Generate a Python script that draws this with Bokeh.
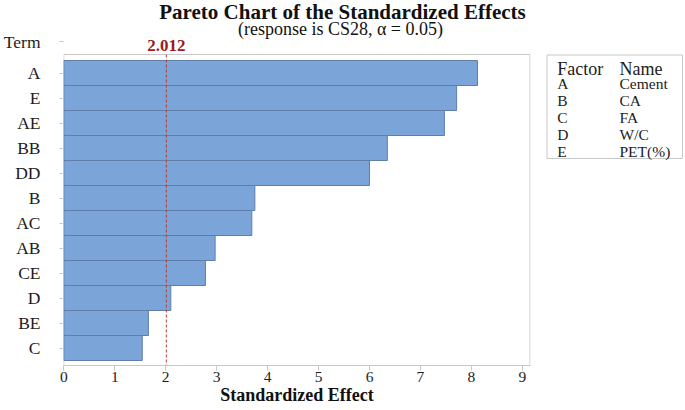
from bokeh.plotting import figure
from bokeh.models import Range1d, FixedTicker
from bokeh.layouts import row
from bokeh.embed import file_html
from bokeh.resources import INLINE
from bokeh.core.properties import value

terms = ["A", "E", "AE", "BB", "DD", "B", "AC", "AB", "CE", "D", "BE", "C"]
effects = [8.12, 7.71, 7.47, 6.35, 6.00, 3.75, 3.69, 2.97, 2.78, 2.10, 1.66, 1.54]
critical = 2.012
x_ticks = [0, 1, 2, 3, 4, 5, 6, 7, 8, 9]
factor_codes = ["A", "B", "C", "D", "E"]
factor_names = ["Cement", "CA", "FA", "W/C", "PET(%)"]

title_text = "Pareto Chart of the Standardized Effects"
subtitle_text = "(response is CS28, \u03b1 = 0.05)"
term_header = "Term"
x_title = "Standardized Effect"
FONT = "Liberation Serif"
TXT = "#1c1c1c"

ypos = list(range(len(terms)))
X_MAX = 9.15
Y_TOP = -0.74          # top edge of the plotting box
Y_BOT = 11.7           # bottom edge of the plotting box (x axis)
Y_TERM = -1.25         # row of the "Term" header

p = figure(width=540, height=410, output_backend="svg", toolbar_location=None,
           x_range=Range1d(-0.006, X_MAX + 0.01), y_range=Range1d(Y_BOT, -2.9),
           min_border_left=63, min_border_right=10, min_border_top=0,
           min_border_bottom=45, outline_line_color=None)
p.background_fill_color = "white"
p.grid.visible = False

# plotting box (top, right, left edges); bottom edge is the x axis line
p.segment(x0=[0, X_MAX, 0], y0=[Y_TOP, Y_TOP, Y_TOP], x1=[X_MAX, X_MAX, 0],
          y1=[Y_TOP, Y_BOT, Y_BOT], line_color="#c8c8c8", line_width=1)

p.hbar(y=ypos, right=effects, left=0, height=1.0, fill_color="#7ba4d8",
       line_color="#5f7fa8", line_width=1)

# critical value reference line
p.segment(x0=[critical], y0=[Y_TOP], x1=[critical], y1=[Y_BOT],
          line_color="#c0392b", line_dash="3 2", line_width=1)

# titles and critical value label
p.text(x=[5.47], y=[-2.46], text=[title_text], text_font=value(FONT),
       text_font_size="21px", text_font_style="bold", text_align="center",
       text_baseline="alphabetic", text_color="#111111")
p.text(x=[5.43], y=[-1.78], text=[subtitle_text], text_font=value(FONT),
       text_font_size="18px", text_align="center",
       text_baseline="alphabetic", text_color="#111111")
p.text(x=[critical], y=[-1.09], text=[f"{critical:.3f}"], text_font=value(FONT),
       text_font_size="17px", text_font_style="bold", text_align="center",
       text_baseline="alphabetic", text_color="#9b1c1c")

# axes
p.xaxis.ticker = FixedTicker(ticks=x_ticks)
p.xaxis.major_label_text_font = FONT
p.xaxis.major_label_text_font_size = "15.5px"
p.xaxis.major_label_text_color = TXT
p.xaxis.major_tick_out = 5
p.xaxis.major_tick_in = 0
p.xaxis.minor_tick_line_color = None
p.xaxis.major_label_standoff = 1
p.xaxis.axis_line_color = "#c8c8c8"
p.xaxis.major_tick_line_color = "#c8c8c8"
p.xaxis.axis_label = x_title
p.xaxis.axis_label_text_font = FONT
p.xaxis.axis_label_text_font_size = "18px"
p.xaxis.axis_label_text_font_style = "bold"
p.xaxis.axis_label_text_color = "#111111"
p.xaxis.axis_label_standoff = 0
p.xaxis.axis_label_text_line_height = 1.0
p.xaxis.major_label_text_line_height = 1.0

p.yaxis.ticker = FixedTicker(ticks=[Y_TERM] + ypos)
overrides = {i: t for i, t in enumerate(terms)}
overrides[Y_TERM] = term_header
p.yaxis.major_label_overrides = overrides
p.yaxis.major_label_text_font = FONT
p.yaxis.major_label_text_font_size = "17.5px"
p.yaxis.major_label_text_color = TXT
p.yaxis.major_tick_out = 4
p.yaxis.major_tick_in = 0
p.yaxis.minor_tick_line_color = None
p.yaxis.major_label_standoff = 19
p.yaxis.axis_line_color = None
p.yaxis.major_tick_line_color = "#c8c8c8"

# factor legend box as a second small figure (frame aligned with main frame)
lg = figure(width=145, height=410, output_backend="svg", toolbar_location=None,
            x_range=Range1d(0, 145), y_range=Range1d(365, 0),
            min_border_left=0, min_border_right=0, min_border_top=0,
            min_border_bottom=45, outline_line_color=None)
lg.axis.visible = False
lg.grid.visible = False
lg.background_fill_color = "white"

lg.quad(left=[6.5], right=[142], top=[54.5], bottom=[158], fill_color="white",
        line_color="#c8c8c8", line_width=1)

row_y = [83 + 16.9 * i for i in range(len(factor_codes))]
lg.text(x=[16.7, 79], y=[68, 68], text=["Factor", "Name"], text_font=value(FONT),
        text_font_size="18px", text_baseline="middle", text_color=TXT)
lg.text(x=[16.7] * len(factor_codes), y=row_y, text=factor_codes, text_font=value(FONT),
        text_font_size="15.5px", text_baseline="middle", text_color=TXT)
lg.text(x=[79] * len(factor_names), y=row_y, text=factor_names, text_font=value(FONT),
        text_font_size="15.5px", text_baseline="middle", text_color=TXT)

layout = row(p, lg)
open("out.html", "w").write(file_html(layout, INLINE))
